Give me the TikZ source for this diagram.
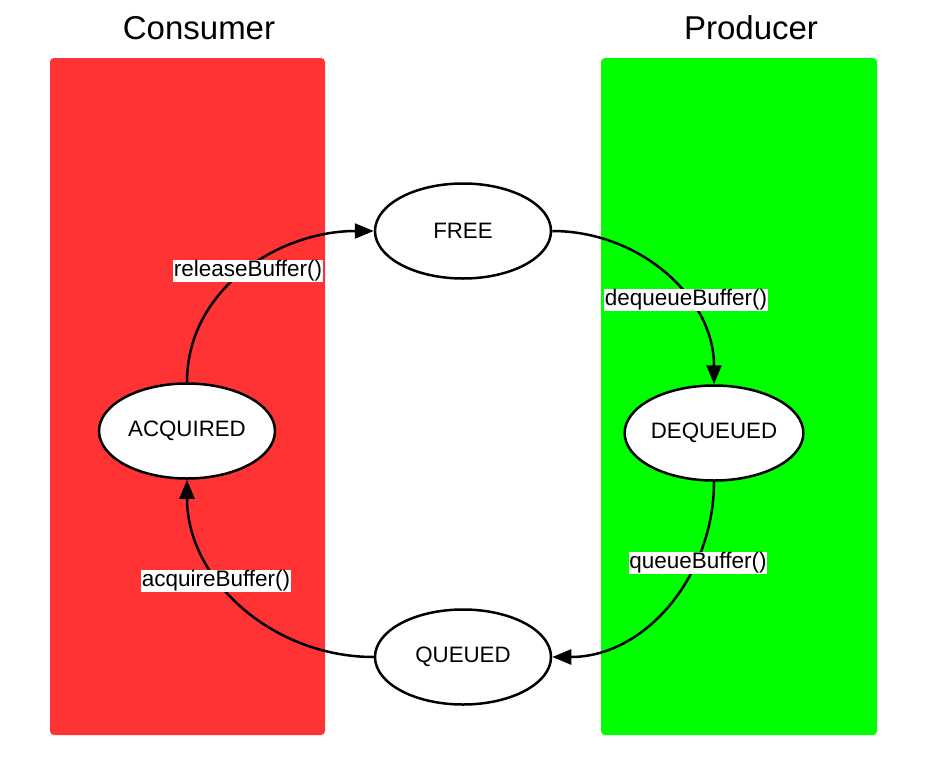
\documentclass[tikz,border=0pt]{standalone}
\usepackage{fontspec}
\setmainfont{Liberation Sans}
\usetikzlibrary{shapes.geometric,arrows.meta}
\definecolor{consred}{HTML}{FF3333}
\definecolor{prodgreen}{HTML}{00FF00}
\begin{document}
\begin{tikzpicture}[x=1pt,y=-1pt,
  lane/.style={rounded corners=4pt},
  title/.style={font=\fontsize{33}{38}\selectfont},
  state/.style={ellipse,draw=black,fill=white,line width=2.5pt,minimum width=176pt,minimum height=95pt,inner sep=0pt,font=\fontsize{22.3}{26}\selectfont},
  trans/.style={line width=2.5pt,-{Triangle[length=19pt,width=15pt]}},
  lbl/.style={fill=white,inner sep=0.8pt,font=\fontsize{22.5}{26}\selectfont}]
\useasboundingbox (0,0) rectangle (928,766);
\fill[white] (0,0) rectangle (928,766);
\fill[consred,lane] (50,58) rectangle (325,735);
\fill[prodgreen,lane] (601,58) rectangle (877,735);
\node[title] (tc) at (199,28) {Consumer};
\node[title] (tp) at (751,28) {Producer};
\node[state] (free) at (463,231) {FREE};
\node[state] (acq) at (187,431) {ACQUIRED};
\node[state] (deq) at (714,433) {DEQUEUED};
\node[state] (que) at (463,657) {QUEUED};
\draw[trans] (acq.north) to[out=90,in=180] (free.west);
\draw[trans] (free.east) to[out=0,in=90] (deq.north);
\draw[trans] (deq.south) to[out=-90,in=0] (que.east);
\draw[trans] (que.west) to[out=180,in=-90] (acq.south);
\node[lbl] (l1) at (248,271) {releaseBuffer()};
\node[lbl] (l2) at (686,300) {dequeueBuffer()};
\node[lbl] (l3) at (698,563) {queueBuffer()};
\node[lbl] (l4) at (216,581) {acquireBuffer()};
\end{tikzpicture}
\end{document}
